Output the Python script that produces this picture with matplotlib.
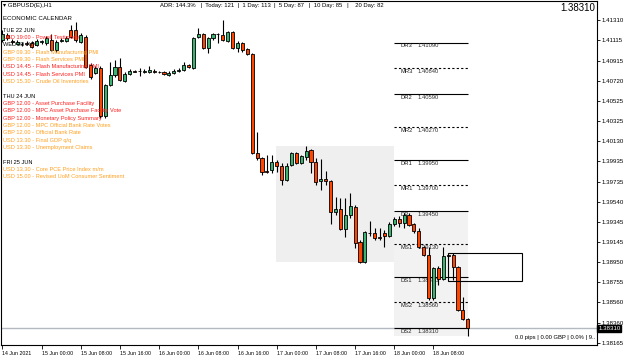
import matplotlib
matplotlib.use('Agg')
import matplotlib.pyplot as plt
from matplotlib.patches import Rectangle

plt.rcParams['font.family'] = ['Liberation Sans', 'DejaVu Sans']

# GBPUSD H1 candles, 14 Jun 16:00 .. 18 Jun 15:00
opens = [1.41115, 1.41164, 1.41106, 1.41076, 1.41076, 1.41086, 1.41086, 1.41067, 1.41096, 1.41086,
         1.41115, 1.41018, 1.41106, 1.41106, 1.41213, 1.41213, 1.41096, 1.41145, 1.40872, 1.40794,
         1.40843, 1.40375, 1.40677, 1.40774, 1.40852, 1.40716, 1.40784, 1.40813, 1.40813, 1.40804,
         1.40804, 1.40813, 1.40804, 1.40804, 1.40774, 1.40794, 1.40818, 1.40823, 1.40872, 1.40843,
         1.41145, 1.41174, 1.41037, 1.41135, 1.41174, 1.41164, 1.41106, 1.41193, 1.41037, 1.41086,
         1.41028, 1.40979, 1.40015, 1.39966, 1.39839, 1.39849, 1.39927, 1.39888, 1.39752, 1.39898,
         1.40015, 1.39917, 1.39976, 1.40044, 1.39927, 1.39742, 1.39762, 1.39742, 1.39440, 1.39469,
         1.39275, 1.39411, 1.39489, 1.39148, 1.38953, 1.39236, 1.39236, 1.39197, 1.39236, 1.39206,
         1.39323, 1.39372, 1.39333, 1.39411, 1.39323, 1.39255, 1.39099, 1.39021, 1.38602, 1.38895,
         1.38788, 1.39021, 1.39021, 1.38904, 1.38486, 1.38398]
highs = [1.41213, 1.41184, 1.41125, 1.41115, 1.41096, 1.41106, 1.41106, 1.41125, 1.41115, 1.41154,
         1.41174, 1.41115, 1.41135, 1.41154, 1.41261, 1.41291, 1.41184, 1.41164, 1.40891, 1.40862,
         1.40862, 1.40687, 1.40901, 1.40921, 1.40940, 1.40804, 1.40833, 1.40823, 1.40843, 1.40833,
         1.40862, 1.40833, 1.40813, 1.40813, 1.40813, 1.40833, 1.40843, 1.40901, 1.40882, 1.41145,
         1.41232, 1.41184, 1.41145, 1.41184, 1.41184, 1.41310, 1.41203, 1.41203, 1.41106, 1.41096,
         1.41037, 1.40989, 1.40219, 1.39976, 1.39995, 1.39995, 1.39947, 1.39917, 1.39917, 1.40025,
         1.40025, 1.39995, 1.40083, 1.40054, 1.39966, 1.39956, 1.39839, 1.39752, 1.39586, 1.39576,
         1.39576, 1.39625, 1.39508, 1.39167, 1.39255, 1.39352, 1.39284, 1.39284, 1.39265, 1.39343,
         1.39391, 1.39401, 1.39430, 1.39430, 1.39333, 1.39284, 1.39109, 1.39099, 1.38904, 1.38914,
         1.39099, 1.39031, 1.39041, 1.38914, 1.38612, 1.38408]
lows = [1.41096, 1.41115, 1.41076, 1.41067, 1.41057, 1.41067, 1.41037, 1.41057, 1.41076, 1.41067,
        1.41008, 1.40999, 1.41096, 1.41096, 1.41135, 1.41096, 1.41086, 1.40843, 1.40736, 1.40784,
        1.40356, 1.40356, 1.40667, 1.40755, 1.40716, 1.40706, 1.40774, 1.40804, 1.40765, 1.40794,
        1.40794, 1.40794, 1.40794, 1.40774, 1.40765, 1.40784, 1.40804, 1.40813, 1.40843, 1.40833,
        1.41135, 1.41028, 1.40989, 1.41115, 1.41086, 1.41106, 1.41096, 1.41028, 1.40999, 1.40999,
        1.40969, 1.40005, 1.39947, 1.39800, 1.39820, 1.39820, 1.39830, 1.39703, 1.39742, 1.39888,
        1.39908, 1.39908, 1.39947, 1.39820, 1.39703, 1.39654, 1.39703, 1.39323, 1.39411, 1.39265,
        1.39197, 1.39382, 1.39089, 1.38943, 1.38943, 1.39206, 1.39167, 1.39167, 1.39099, 1.39197,
        1.39304, 1.39294, 1.39284, 1.39304, 1.39236, 1.39089, 1.39012, 1.38583, 1.38583, 1.38729,
        1.38778, 1.39002, 1.38778, 1.38476, 1.38388, 1.38232]
closes = [1.41174, 1.41135, 1.41096, 1.41096, 1.41081, 1.41076, 1.41047, 1.41106, 1.41101, 1.41135,
          1.41018, 1.41096, 1.41115, 1.41135, 1.41145, 1.41115, 1.41164, 1.40852, 1.40755, 1.40843,
          1.40375, 1.40677, 1.40774, 1.40852, 1.40726, 1.40784, 1.40813, 1.40808, 1.40818, 1.40813,
          1.40823, 1.40799, 1.40799, 1.40784, 1.40794, 1.40813, 1.40823, 1.40872, 1.40852, 1.41135,
          1.41174, 1.41037, 1.41135, 1.41174, 1.41169, 1.41115, 1.41193, 1.41037, 1.41086, 1.41018,
          1.40979, 1.40015, 1.39966, 1.39830, 1.39834, 1.39927, 1.39888, 1.39752, 1.39888, 1.40015,
          1.39917, 1.39986, 1.40034, 1.39927, 1.39732, 1.39762, 1.39742, 1.39440, 1.39469, 1.39275,
          1.39411, 1.39499, 1.39138, 1.38953, 1.39245, 1.39240, 1.39187, 1.39192, 1.39206, 1.39323,
          1.39372, 1.39333, 1.39411, 1.39313, 1.39255, 1.39099, 1.39021, 1.38602, 1.38895, 1.38788,
          1.39012, 1.39017, 1.38904, 1.38486, 1.38398, 1.38310]

time_labels = ['14 Jun 2021', '15 Jun 00:00', '15 Jun 08:00', '15 Jun 16:00', '16 Jun 00:00',
               '16 Jun 08:00', '16 Jun 16:00', '17 Jun 00:00', '17 Jun 08:00', '17 Jun 16:00',
               '18 Jun 00:00', '18 Jun 08:00']
time_label_bars = [0, 8, 16, 24, 32, 40, 48, 56, 64, 72, 80, 88]

price_ticks = [1.41310, 1.41115, 1.40915, 1.40720, 1.40525, 1.40325, 1.40130, 1.39935, 1.39735,
               1.39540, 1.39345, 1.39145, 1.38950, 1.38755, 1.38560, 1.38360, 1.38165]
last_price = 1.38310

# daily / mid pivots drawn for the current day
pivot_names = ['DR3', 'MR3', 'DR2', 'MR2', 'DR1', 'MR1', 'DP', 'MS1', 'DS1', 'MS2', 'DS2']
pivot_values = [1.41090, 1.40840, 1.40590, 1.40270, 1.39950, 1.39700, 1.39450, 1.39130, 1.38810,
                1.38560, 1.38310]

# previous day and current day ranges (bar from, bar to, low, high)
yesterday_box = [55.9, 79.95, 1.38953, 1.40083]
today_box = [79.95, 95.05, 1.38232, 1.39440]
outline_box = [90.95, 106.05, 1.38768, 1.39041]

calendar_lines = [
    ('TUE 22 JUN', 'black'),
    ('USD 19:00 - Powell Testimony', 'red'),
    ('WED 23 JUN', 'black'),
    ('GBP 09.30 - Flash Manufacturing PMI', 'orange'),
    ('GBP 09.30 - Flash Services PMI', 'orange'),
    ('USD 14.45 - Flash Manufacturing PMI', 'red'),
    ('USD 14.45 - Flash Services PMI', 'red'),
    ('USD 15.30 - Crude Oil Inventories', 'orange'),
    ('', None),
    ('THU 24 JUN', 'black'),
    ('GBP 12.00 - Asset Purchase Facility', 'red'),
    ('GBP 12.00 - MPC Asset Purchase Facility Vote', 'red'),
    ('GBP 12.00 - Monetary Policy Summary', 'red'),
    ('GBP 12.00 - MPC Official Bank Rate Votes', 'orange'),
    ('GBP 12.00 - Official Bank Rate', 'orange'),
    ('USD 13.30 - Final GDP q/q', 'orange'),
    ('USD 13.30 - Unemployment Claims', 'orange'),
    ('', None),
    ('FRI 25 JUN', 'black'),
    ('USD 13.30 - Core PCE Price Index m/m', 'orange'),
    ('USD 15.00 - Revised UoM Consumer Sentiment', 'orange'),
]
text_colors = {'black': '#000000', 'red': '#ff2020', 'orange': '#ffa020'}

W, H = 625, 358
fig = plt.figure(figsize=(W / 100, H / 100), dpi=100)
ax = fig.add_axes([1 / W, 13 / H, 596 / W, 344 / H])
ax.set_xlim(-0.27, 121.37)
ax.set_ylim(1.38146, 1.41495)


def px(x, y):
    # pixel position in the picture -> figure fraction
    return x / W, 1 - y / H


# shaded day ranges
for box, col in [(yesterday_box, '#efefef'), (today_box, '#f2f2f2')]:
    ax.add_patch(Rectangle((box[0], box[2]), box[1] - box[0], box[3] - box[2],
                           facecolor=col, edgecolor='none', zorder=0))

# current price line
ax.axhline(last_price, color='#b4b8c0', lw=1.0, zorder=1)

# pivot lines with labels
for name, val in zip(pivot_names, pivot_values):
    style = '-' if name.startswith('D') else (0, (2, 2))
    ax.hlines(val, 79.95, 95.05, colors='black', linestyles=style, lw=0.8, zorder=1)
    ax.text(81.2, val - 0.00008, name, fontsize=4.2, va='top', ha='left', color='#202020', zorder=1)
    ax.text(84.8, val - 0.00008, '%.5f' % val, fontsize=4.2, va='top', ha='left', color='#303030', zorder=1)

# candles
for i in range(len(opens)):
    o, h, l, c = opens[i], highs[i], lows[i], closes[i]
    ax.vlines(i, l, h, colors='black', lw=0.8, zorder=2)
    col = '#3cb371' if c >= o else '#ff4500'
    ax.bar(i, max(abs(c - o), 0.00002), bottom=min(o, c), width=0.62,
           color=col, edgecolor='black', lw=0.6, zorder=3)

# outlined box
ax.add_patch(Rectangle((outline_box[0], outline_box[2]), outline_box[1] - outline_box[0],
                       outline_box[3] - outline_box[2], facecolor='none',
                       edgecolor='black', lw=0.8, zorder=4))

# axes look
for s in ax.spines.values():
    s.set_linewidth(0.8)
ax.yaxis.tick_right()
ax.set_yticks(price_ticks)
ax.set_yticklabels(['%.5f' % v for v in price_ticks])
ax.tick_params(axis='y', labelsize=4.4, length=2, width=0.6, pad=1.5, colors='black')
ax.set_xticks(time_label_bars)
ax.set_xticklabels(time_labels, ha='left')
ax.tick_params(axis='x', labelsize=3.8, length=3, width=0.6, pad=1)

# current price tag on the axis
ax.text(1.002, last_price, '1.38310', transform=ax.get_yaxis_transform(), fontsize=4.4,
        color='white', va='center', ha='left',
        bbox=dict(boxstyle='square,pad=0.15', facecolor='black', edgecolor='black'))

# header texts
fig.text(*px(3, 6), '\u25be GBPUSD(E),H1', fontsize=4.4, va='center', ha='left')
fig.text(*px(160, 6), 'ADR: 144.3%   |  Today: 121  |  1 Day: 113  |  5 Day: 87   |  10 Day: 85   |    20 Day: 82',
         fontsize=4.2, va='center', ha='left')
fig.text(*px(595, 8), '1.38310', fontsize=7, va='center', ha='right')
fig.text(*px(3, 18), 'ECONOMIC CALENDAR', fontsize=4.4, va='center', ha='left')

# economic calendar
y = 30
for txt, c in calendar_lines:
    if txt:
        fig.text(*px(3, y), txt, fontsize=4.1, va='center', ha='left', color=text_colors[c])
    y += 7.35

fig.text(*px(595, 337), '0.0 pips | 0.00 GBP | 0.0% | 9..', fontsize=4.2, va='center', ha='right')

fig.savefig('out.png', dpi=100)
